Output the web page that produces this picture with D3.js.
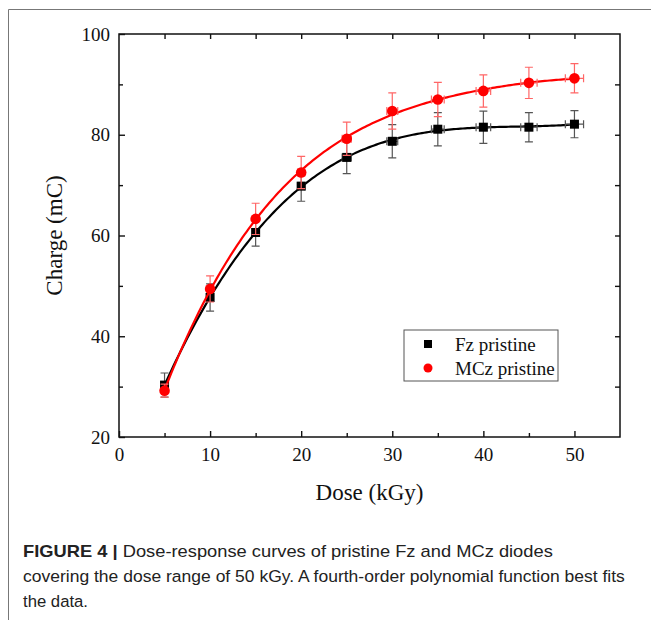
<!DOCTYPE html>
<html>
<head>
<meta charset="utf-8">
<script src="https://cdn.jsdelivr.net/npm/d3@7"></script>
<style>
  body { margin: 0; background: #fff; }
  svg { display: block; }
</style>
</head>
<body>
<script>
// values
const doses = [5, 10, 15, 20, 25, 30, 35, 40, 45, 50];
const fzCharge = [30.3, 47.7, 60.6, 69.8, 75.5, 78.7, 81.1, 81.5, 81.5, 82.1];
const fzErr = [2.4, 2.7, 2.7, 3.0, 3.2, 3.3, 3.3, 3.2, 2.9, 2.7];
const mczCharge = [29.2, 49.4, 63.3, 72.5, 79.2, 84.7, 87.0, 88.7, 90.3, 91.2];
const mczErr = [1.3, 2.6, 3.1, 3.2, 3.3, 3.6, 3.4, 3.2, 3.1, 2.9];
const doseErr = [0.1, 0.2, 0.3, 0.4, 0.5, 0.6, 0.7, 0.8, 0.9, 1.0];
const xTicks = [0, 10, 20, 30, 40, 50];
const yTicks = [20, 40, 60, 80, 100];
const captionLines = [
  "Dose-response curves of pristine Fz and MCz diodes",
  "covering the dose range of 50 kGy. A fourth-order polynomial function best fits",
  "the data."
];

const W = 651, H = 620;
const svg = d3.select("body").append("svg").attr("width", W).attr("height", H);

// figure frame (top + left)
svg.append("path").attr("d", "M8.5,620 V9.5 H651").attr("fill", "none")
  .attr("stroke", "#777").attr("stroke-width", 1);

const x = d3.scaleLinear().domain([0, 55]).range([119, 620]);
const y = d3.scaleLinear().domain([20, 100]).range([437, 34]);
const serif = "'Liberation Serif', 'Times New Roman', serif";

// plot box
svg.append("rect").attr("x", x(0)).attr("y", y(100))
  .attr("width", x(55) - x(0)).attr("height", y(20) - y(100))
  .attr("fill", "none").attr("stroke", "#111").attr("stroke-width", 1.5);

const styleAxis = g => {
  g.select(".domain").remove();
  g.selectAll("line").attr("stroke", "#111").attr("stroke-width", 1.4);
  g.selectAll("text").attr("font-family", serif).attr("font-size", 19).attr("fill", "#111");
};

// bottom axis
svg.append("g").attr("transform", `translate(0,${y(20)})`)
  .call(d3.axisBottom(x).tickValues(xTicks).tickSize(-6).tickPadding(11))
  .call(styleAxis);
svg.append("g").attr("transform", `translate(0,${y(20)})`)
  .call(d3.axisBottom(x).tickValues(d3.range(5, 55, 10)).tickSize(-4).tickFormat(""))
  .call(styleAxis);
// top axis
svg.append("g").attr("transform", `translate(0,${y(100)})`)
  .call(d3.axisTop(x).tickValues(d3.range(5, 55, 5)).tickSize(-5).tickFormat(""))
  .call(styleAxis);
// left axis
svg.append("g").attr("transform", `translate(${x(0)},0)`)
  .call(d3.axisLeft(y).tickValues(yTicks).tickSize(-6).tickPadding(9))
  .call(styleAxis);
svg.append("g").attr("transform", `translate(${x(0)},0)`)
  .call(d3.axisLeft(y).tickValues(d3.range(30, 100, 20)).tickSize(-4).tickFormat(""))
  .call(styleAxis);
// right axis
svg.append("g").attr("transform", `translate(${x(55)},0)`)
  .call(d3.axisRight(y).tickValues(d3.range(30, 100, 10)).tickSize(-5).tickFormat(""))
  .call(styleAxis);

// axis titles
svg.append("text").attr("x", (x(0) + x(55)) / 2).attr("y", 500)
  .attr("text-anchor", "middle").attr("font-family", serif).attr("font-size", 23)
  .attr("fill", "#111").text("Dose (kGy)");
svg.append("text").attr("transform", `translate(62,${(y(20) + y(100)) / 2}) rotate(-90)`)
  .attr("text-anchor", "middle").attr("font-family", serif).attr("font-size", 23)
  .attr("fill", "#111").text("Charge (mC)");

// 4th order polynomial least-squares fit
function polyfit(xs, ys, order) {
  const s = 50;
  const n = order + 1;
  const A = Array.from({length: n}, () => new Array(n + 1).fill(0));
  xs.forEach((xv, k) => {
    const t = xv / s;
    for (let i = 0; i < n; i++) {
      for (let j = 0; j < n; j++) A[i][j] += Math.pow(t, i + j);
      A[i][n] += ys[k] * Math.pow(t, i);
    }
  });
  for (let i = 0; i < n; i++) {
    let p = i;
    for (let r = i + 1; r < n; r++) if (Math.abs(A[r][i]) > Math.abs(A[p][i])) p = r;
    [A[i], A[p]] = [A[p], A[i]];
    for (let r = 0; r < n; r++) {
      if (r === i) continue;
      const f = A[r][i] / A[i][i];
      for (let c = i; c <= n; c++) A[r][c] -= f * A[i][c];
    }
  }
  const coef = A.map((row, i) => row[n] / row[i]);
  return xv => coef.reduce((acc, c, i) => acc + c * Math.pow(xv / s, i), 0);
}

const series = [
  {name: "Fz pristine", vals: fzCharge, err: fzErr, color: "#000", errColor: "#555", shape: "square"},
  {name: "MCz pristine", vals: mczCharge, err: mczErr, color: "#f00", errColor: "#f66", shape: "circle"}
];

const line = d3.line().x(d => x(d[0])).y(d => y(d[1]));
const fine = d3.range(5, 50.01, 0.25);

series.forEach(s => {
  const f = polyfit(doses, s.vals, 4);
  s.g = svg.append("g");
  s.g.append("path").datum(fine.map(v => [v, f(v)]))
    .attr("d", line).attr("fill", "none").attr("stroke", s.color).attr("stroke-width", 2.2);
});

series.forEach(s => {
  const pts = doses.map((d, i) => ({d, v: s.vals[i], e: s.err[i], xe: doseErr[i]}));
  const eb = s.g.append("g").attr("stroke", s.errColor).attr("stroke-width", 1.2).attr("fill", "none");
  pts.forEach(p => {
    const cx = x(p.d), cy = y(p.v), y1 = y(p.v + p.e), y2 = y(p.v - p.e);
    const x1 = x(p.d - p.xe), x2 = x(p.d + p.xe);
    eb.append("path").attr("d",
      `M${cx},${y1}V${y2}M${cx - 4},${y1}H${cx + 4}M${cx - 4},${y2}H${cx + 4}` +
      `M${x1},${cy}H${x2}M${x1},${cy - 4}V${cy + 4}M${x2},${cy - 4}V${cy + 4}`);
  });
  if (s.shape === "square") {
    s.g.selectAll("rect.pt").data(pts).join("rect").attr("class", "pt")
      .attr("x", p => x(p.d) - 4.5).attr("y", p => y(p.v) - 4.5)
      .attr("width", 9).attr("height", 9).attr("fill", s.color);
  } else {
    s.g.selectAll("circle.pt").data(pts).join("circle").attr("class", "pt")
      .attr("cx", p => x(p.d)).attr("cy", p => y(p.v)).attr("r", 5.3).attr("fill", s.color);
  }
});

// legend
const lg = svg.append("g").attr("transform", "translate(404,330)");
lg.append("rect").attr("x", 0).attr("y", 0).attr("width", 154).attr("height", 51)
  .attr("fill", "#fff").attr("stroke", "#555").attr("stroke-width", 1);
lg.append("rect").attr("x", 20).attr("y", 10).attr("width", 8).attr("height", 8).attr("fill", "#000");
lg.append("circle").attr("cx", 24).attr("cy", 38).attr("r", 4.5).attr("fill", "#f00");
series.forEach((s, i) => {
  lg.append("text").attr("x", 51).attr("y", 21 + i * 24)
    .attr("font-family", serif).attr("font-size", 19).attr("fill", "#111").text(s.name);
});

// caption: each line squeezed horizontally to the width it has in the figure
const sans = "'Liberation Sans', Arial, sans-serif";
const cap = svg.append("g").attr("font-family", sans).attr("font-size", 17).attr("fill", "#222");
const fit = (t, w) => {
  const k = w / t.node().getComputedTextLength();
  t.attr("transform", `translate(23,0) scale(${k},1)`);
};
const l1 = cap.append("text").attr("x", 0).attr("y", 557);
l1.append("tspan").attr("font-weight", "bold").text("FIGURE 4 | ");
l1.append("tspan").text(captionLines[0]);
fit(l1, 530);
const l2 = cap.append("text").attr("x", 0).attr("y", 582).text(captionLines[1]);
fit(l2, 602);
const l3 = cap.append("text").attr("x", 0).attr("y", 607).text(captionLines[2]);
fit(l3, 65);
</script>
</body>
</html>
